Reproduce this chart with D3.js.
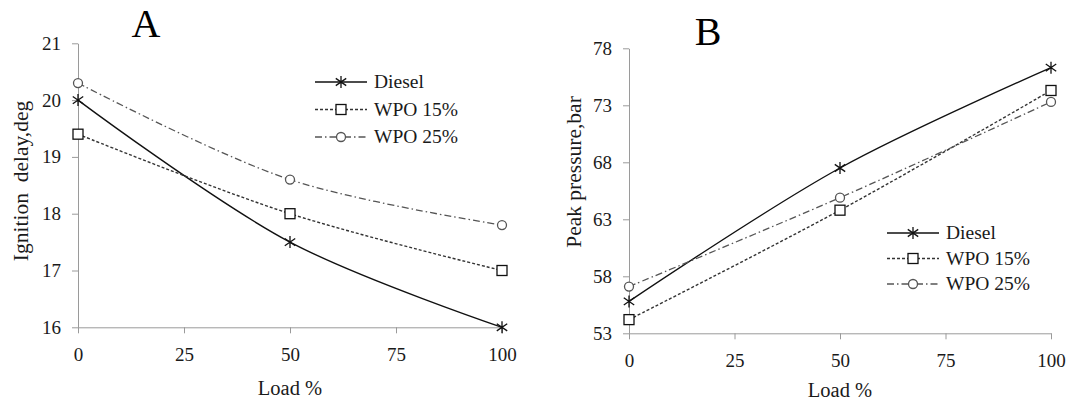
<!DOCTYPE html>
<html lang="en">
<head>
  <meta charset="UTF-8">
  <title>Ignition delay and peak pressure vs load</title>
  <script src="https://d3js.org/d3.v7.min.js"></script>
  <style>
    body { margin: 0; background: #fff; }
    svg { display: block; }
    svg text { font-family: "Liberation Serif", "Times New Roman", serif !important; }
    .axis path, .axis line { stroke: #9a9a9a; }
    .axis text { font-size: 19px; fill: #1a1a1a; }
  </style>
</head>
<body>
  <svg id="chart" width="1066" height="403"></svg>
  <script>
    // data
    const loads = [0, 50, 100];
    const xTicks = [0, 25, 50, 75, 100];
    const seriesNames = ["Diesel", "WPO 15%", "WPO 25%"];

    const delayDiesel = [20.0, 17.5, 16.0];
    const delayWpo15 = [19.4, 18.0, 17.0];
    const delayWpo25 = [20.3, 18.6, 17.8];
    const delayTicks = [16, 17, 18, 19, 20, 21];

    const pressDiesel = [55.8, 67.5, 76.3];
    const pressWpo15 = [54.2, 63.8, 74.3];
    const pressWpo25 = [57.1, 64.9, 73.3];
    const pressTicks = [53, 58, 63, 68, 73, 78];

    const serif = "Liberation Serif";

    const styles = {
      "Diesel":  { stroke: "#111", dash: null, width: 1.4, marker: "star" },
      "WPO 15%": { stroke: "#333", dash: "3,2", width: 1.4, marker: "square" },
      "WPO 25%": { stroke: "#555", dash: "7,3,1.5,3", width: 1.3, marker: "circle" }
    };

    const svg = d3.select("#chart");

    function drawMarker(g, type, x, y) {
      if (type === "star") {
        const r = 6;
        g.append("path")
          .attr("d", `M${x},${y - r}V${y + r}M${x - r * 0.87},${y - r * 0.6}L${x + r * 0.87},${y + r * 0.6}M${x - r * 0.87},${y + r * 0.6}L${x + r * 0.87},${y - r * 0.6}`)
          .attr("stroke", "#111").attr("stroke-width", 1.3).attr("fill", "none");
      } else if (type === "square") {
        g.append("rect")
          .attr("x", x - 5).attr("y", y - 5).attr("width", 10).attr("height", 10)
          .attr("fill", "#fff").attr("stroke", "#111").attr("stroke-width", 1.3);
      } else {
        g.append("circle")
          .attr("cx", x).attr("cy", y).attr("r", 4.5)
          .attr("fill", "#fff").attr("stroke", "#555").attr("stroke-width", 1.3);
      }
    }

    function panel(cfg) {
      const g = svg.append("g");
      const x = d3.scaleLinear().domain([0, 100]).range([cfg.x0, cfg.x1]);
      const y = d3.scaleLinear().domain(cfg.yDomain).range([cfg.yBottom, cfg.yTop]);

      g.append("g")
        .attr("class", "axis")
        .attr("transform", `translate(0,${cfg.yBottom})`)
        .call(d3.axisBottom(x).tickValues(xTicks).tickFormat(d3.format("d"))
          .tickSize(6).tickPadding(14).tickSizeOuter(0))
        .attr("font-family", serif);

      g.append("g")
        .attr("class", "axis")
        .attr("transform", `translate(${cfg.x0},0)`)
        .call(d3.axisLeft(y).tickValues(cfg.yTicks).tickFormat(d3.format("d"))
          .tickSize(6).tickPadding(11).tickSizeOuter(0))
        .attr("font-family", serif);

      const line = d3.line()
        .x(d => x(d[0]))
        .y(d => y(d[1]))
        .curve(d3.curveCatmullRom.alpha(0.5));

      cfg.series.forEach((vals, i) => {
        const name = seriesNames[i];
        const st = styles[name];
        const pts = loads.map((l, j) => [l, vals[j]]);
        g.append("path")
          .datum(pts)
          .attr("d", line)
          .attr("fill", "none")
          .attr("stroke", st.stroke)
          .attr("stroke-width", st.width)
          .attr("stroke-dasharray", st.dash);
        pts.forEach(p => drawMarker(g, st.marker, x(p[0]), y(p[1])));
      });

      // legend
      seriesNames.forEach((name, i) => {
        const st = styles[name];
        const ly = cfg.legY + i * cfg.legStep;
        g.append("line")
          .attr("x1", cfg.legX).attr("x2", cfg.legX + 52)
          .attr("y1", ly).attr("y2", ly)
          .attr("stroke", st.stroke).attr("stroke-width", st.width)
          .attr("stroke-dasharray", st.dash);
        drawMarker(g, st.marker, cfg.legX + 26, ly);
        g.append("text")
          .attr("x", cfg.legX + 59).attr("y", ly + 6)
          .attr("font-family", serif).attr("font-size", 19.5).attr("fill", "#1a1a1a")
          .text(name);
      });

      g.append("text")
        .attr("x", (cfg.x0 + cfg.x1) / 2).attr("y", cfg.loadY)
        .attr("text-anchor", "middle").attr("font-family", serif)
        .attr("font-size", 20.5).attr("fill", "#1a1a1a")
        .text("Load %");

      g.append("text")
        .attr("transform", `translate(${cfg.yLabX},${cfg.yLabY}) rotate(-90)`)
        .attr("text-anchor", "middle").attr("font-family", serif)
        .attr("font-size", 21.5).attr("fill", "#1a1a1a")
        .attr("xml:space", "preserve")
        .text(cfg.yLabel);

      g.append("text")
        .attr("x", cfg.titleX).attr("y", cfg.titleY)
        .attr("text-anchor", "middle").attr("font-family", serif)
        .attr("font-size", 40).attr("fill", "#000")
        .text(cfg.title);
    }

    panel({
      x0: 78, x1: 502, yTop: 43.3, yBottom: 327.3,
      yDomain: [16, 21], yTicks: delayTicks,
      series: [delayDiesel, delayWpo15, delayWpo25],
      legX: 315, legY: 82, legStep: 27.5,
      yLabel: "Ignition  delay,deg", yLabX: 28, yLabY: 181,
      title: "A", titleX: 146, titleY: 37, loadY: 395
    });

    panel({
      x0: 629, x1: 1051, yTop: 48.3, yBottom: 333.3,
      yDomain: [53, 78], yTicks: pressTicks,
      series: [pressDiesel, pressWpo15, pressWpo25],
      legX: 887, legY: 233, legStep: 25.5,
      yLabel: "Peak pressure,bar", yLabX: 581, yLabY: 172,
      title: "B", titleX: 708, titleY: 45, loadY: 397
    });
  </script>
</body>
</html>
